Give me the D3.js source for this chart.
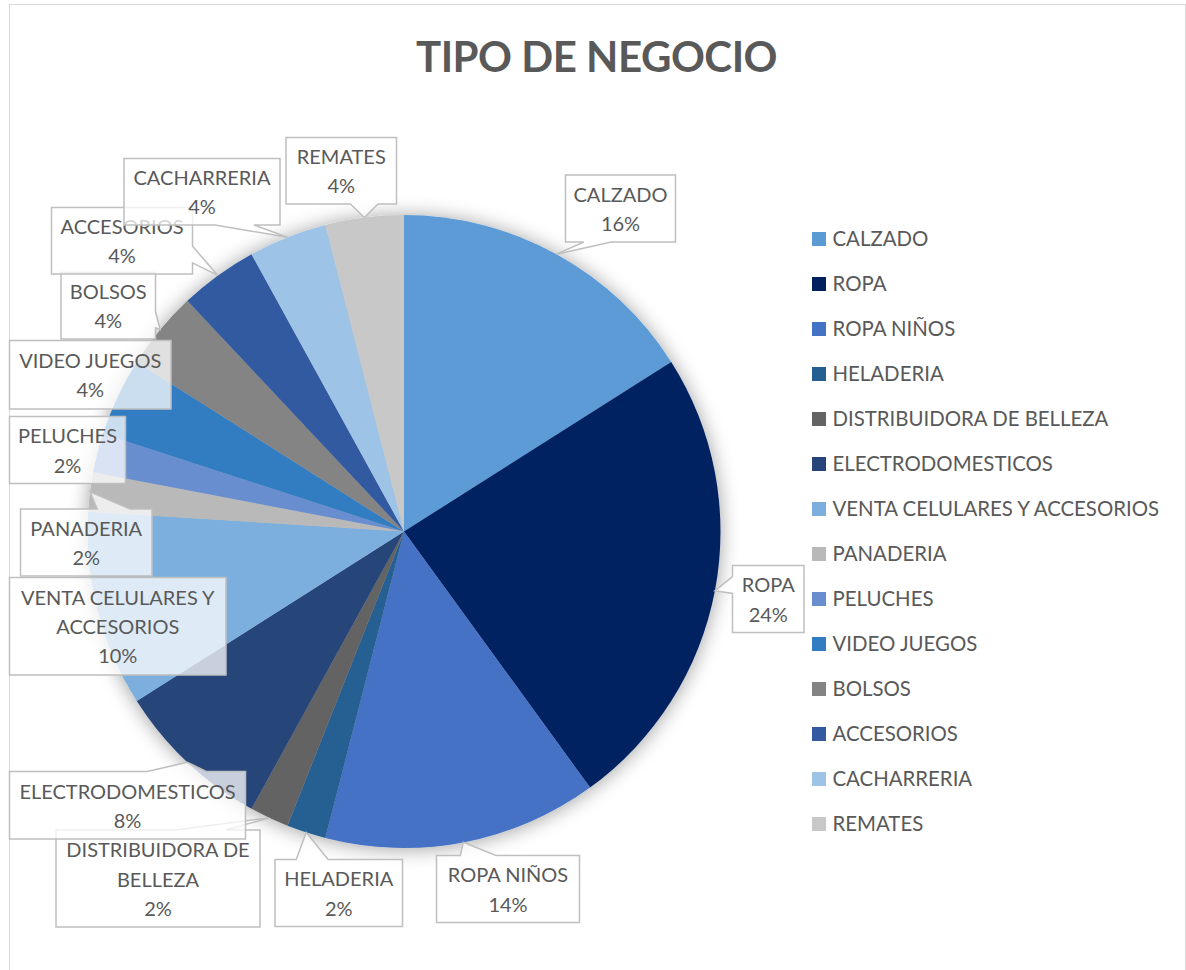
<!DOCTYPE html>
<html>
<head>
<meta charset="utf-8">
<script src="https://cdn.jsdelivr.net/npm/d3@7"></script>
<style>
  body { margin: 0; background: #fff; }
  svg { display: block; }
  text { font-family: Lato, "Open Sans", sans-serif; fill: #595959; }
</style>
</head>
<body>
<svg id="chart" width="1186" height="970"></svg>
<script>
// ---- data ----
const chartTitle = "TIPO DE NEGOCIO";
const categories = [
  "CALZADO", "ROPA", "ROPA NIÑOS", "HELADERIA", "DISTRIBUIDORA DE BELLEZA",
  "ELECTRODOMESTICOS", "VENTA CELULARES Y ACCESORIOS", "PANADERIA", "PELUCHES",
  "VIDEO JUEGOS", "BOLSOS", "ACCESORIOS", "CACHARRERIA", "REMATES"
];
const counts = [8, 12, 7, 1, 1, 4, 5, 1, 1, 2, 2, 2, 2, 2];
const sliceColors = [
  "#5B9BD5", "#002060", "#4472C4", "#255E91", "#636363",
  "#264478", "#7CAFDD", "#B9B9B9", "#698ED0", "#327DC2",
  "#848484", "#335AA1", "#9DC3E6", "#C8C8C8"
];

// ---- layout ----
const center = { x: 404, y: 531.5 };
const radius = 316.5;

// callout boxes for the data labels: [left, top, width, height]
const calloutBoxes = [
  [565.5, 175, 110, 67],
  [732.5, 565.5, 71.5, 67],
  [436.5, 855.5, 143, 67],
  [275, 859.5, 127.5, 67],
  [56, 830, 204, 97],
  [9.5, 771.5, 236, 67.5],
  [9.5, 577.5, 216.5, 97.5],
  [20.5, 509, 131.5, 67],
  [9.5, 416.5, 116, 67],
  [9.5, 340.5, 161.5, 68.5],
  [61, 272.5, 94.5, 66.5],
  [51.5, 207.5, 141, 66.5],
  [124, 158.5, 156, 66.5],
  [286, 137.5, 110.5, 66.5]
];

const labelFont = 20;
const lineStep = 29.2;

const svg = d3.select("#chart");

// chart frame
svg.append("rect")
  .attr("x", 9.5).attr("y", 4.5)
  .attr("width", 1176).attr("height", 990)
  .attr("fill", "#fff")
  .attr("stroke", "#d9d9d9").attr("stroke-width", 1);

// soft outer shadow for the pie
const defs = svg.append("defs");
const f = defs.append("filter").attr("id", "pieShadow")
  .attr("x", "-20%").attr("y", "-20%").attr("width", "140%").attr("height", "140%");
f.append("feGaussianBlur").attr("in", "SourceAlpha").attr("stdDeviation", 10).attr("result", "b");
f.append("feOffset").attr("in", "b").attr("dx", 0).attr("dy", 1).attr("result", "o");
f.append("feComponentTransfer").attr("in", "o").attr("result", "s")
  .append("feFuncA").attr("type", "linear").attr("slope", 0.38);
const fm = f.append("feMerge");
fm.append("feMergeNode").attr("in", "s");
fm.append("feMergeNode").attr("in", "SourceGraphic");

// title
svg.append("text")
  .attr("x", 596.5).attr("y", 72)
  .attr("text-anchor", "middle")
  .style("font-size", "42px").style("font-weight", "bold")
  .style("letter-spacing", "-0.5px")
  .text(chartTitle);

// pie
const total = d3.sum(counts);
const rows = categories.map((c, i) => ({ name: c, value: counts[i], color: sliceColors[i], index: i }));
const pie = d3.pie().sort(null).value(d => d.value);
const arcs = pie(rows);
const arc = d3.arc().innerRadius(0).outerRadius(radius);

const pieG = svg.append("g")
  .attr("transform", `translate(${center.x},${center.y})`)
  .attr("filter", "url(#pieShadow)");
pieG.selectAll("path")
  .data(arcs)
  .join("path")
  .attr("d", arc)
  .attr("fill", d => d.data.color);

// wedge-rectangle callout outline, pointing at (tx, ty)
function calloutPath(x, y, w, h, tx, ty) {
  const cx = x + w / 2, cy = y + h / 2;
  const dx = tx - cx, dy = ty - cy;
  const inside = tx >= x && tx <= x + w && ty >= y && ty <= y + h;
  const p = d3.path();
  p.moveTo(x, y);
  if (inside) {
    p.lineTo(x + w, y); p.lineTo(x + w, y + h); p.lineTo(x, y + h); p.closePath();
    return p.toString();
  }
  const dq = dx * h / w;
  const vertical = Math.abs(dy) > Math.abs(dq);
  const xa = x + w * (dx > 0 ? 7 : 2) / 12, xb = x + w * (dx > 0 ? 10 : 5) / 12;
  const ya = y + h * (dy > 0 ? 7 : 2) / 12, yb = y + h * (dy > 0 ? 10 : 5) / 12;
  if (vertical && dy < 0) { p.lineTo(xa, y); p.lineTo(tx, ty); p.lineTo(xb, y); }
  p.lineTo(x + w, y);
  if (!vertical && dx > 0) { p.lineTo(x + w, ya); p.lineTo(tx, ty); p.lineTo(x + w, yb); }
  p.lineTo(x + w, y + h);
  if (vertical && dy > 0) { p.lineTo(xb, y + h); p.lineTo(tx, ty); p.lineTo(xa, y + h); }
  p.lineTo(x, y + h);
  if (!vertical && dx < 0) { p.lineTo(x, yb); p.lineTo(tx, ty); p.lineTo(x, ya); }
  p.closePath();
  return p.toString();
}

// greedy word wrap against a pixel width
const measurer = svg.append("text").style("font-size", labelFont + "px").attr("opacity", 0);
function wrapWords(str, maxW) {
  const words = str.split(" ");
  const lines = [];
  let cur = "";
  for (const w of words) {
    const trial = cur ? cur + " " + w : w;
    measurer.text(trial);
    if (cur && measurer.node().getComputedTextLength() > maxW) {
      lines.push(cur); cur = w;
    } else cur = trial;
  }
  if (cur) lines.push(cur);
  return lines;
}

const pct = d3.format(".0%");
const labelsG = svg.append("g");
arcs.forEach((a, i) => {
  const [bx, by, bw, bh] = calloutBoxes[i];
  const mid = (a.startAngle + a.endAngle) / 2;
  const tx = center.x + radius * Math.sin(mid);
  const ty = center.y - radius * Math.cos(mid);
  const g = labelsG.append("g");
  g.append("path")
    .attr("d", calloutPath(bx, by, bw, bh, tx, ty))
    .attr("fill", "#fff").attr("fill-opacity", 0.75)
    .attr("stroke", "#bfbfbf").attr("stroke-width", 1.5)
    .attr("stroke-linejoin", "miter");
  const lines = wrapWords(a.data.name, bw - 14).concat([pct(a.data.value / total)]);
  const n = lines.length;
  const midY = by + bh / 2;
  lines.forEach((ln, k) => {
    g.append("text")
      .attr("x", bx + bw / 2)
      .attr("y", midY + (k - (n - 1) / 2) * lineStep + 8)
      .attr("text-anchor", "middle")
      .style("font-size", labelFont + "px")
      .text(ln);
  });
});
measurer.remove();

// legend
const legendG = svg.append("g");
const legendY = d3.scalePoint().domain(categories).range([239, 824]);
rows.forEach(r => {
  const cy = legendY(r.name);
  legendG.append("rect")
    .attr("x", 812).attr("y", cy - 7)
    .attr("width", 14).attr("height", 14)
    .attr("fill", r.color);
  legendG.append("text")
    .attr("x", 832.5).attr("y", cy + 7)
    .style("font-size", "20.4px")
    .text(r.name);
});
</script>
</body>
</html>
